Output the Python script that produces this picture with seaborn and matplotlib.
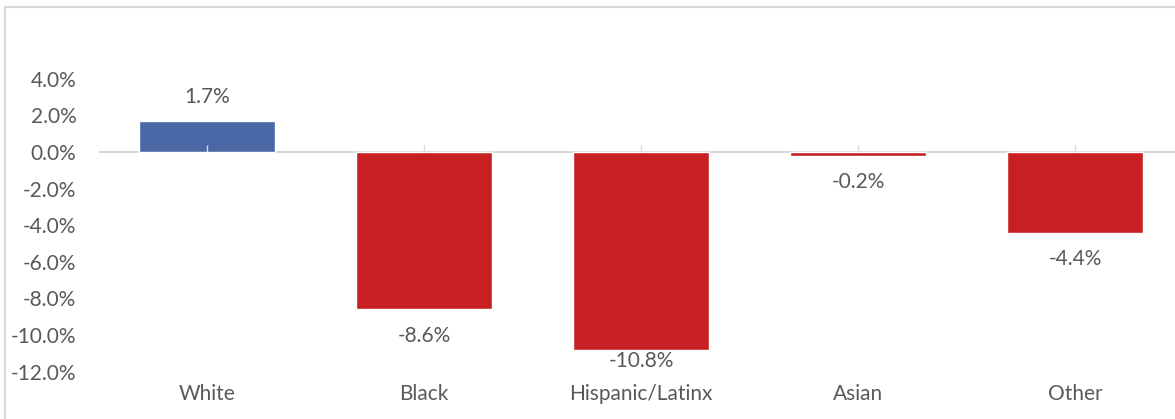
import matplotlib
matplotlib.use("Agg")
import matplotlib.pyplot as plt
import matplotlib.patches as mpatches
from matplotlib.ticker import FuncFormatter
import seaborn as sns

categories = ["White", "Black", "Hispanic/Latinx", "Asian", "Other"]
values = [1.7, -8.6, -10.8, -0.2, -4.4]
y_ticks = [4, 2, 0, -2, -4, -6, -8, -10, -12]

POS_COLOR = "#4A67A6"
NEG_COLOR = "#C82022"
TEXT_COLOR = "#595959"
LINE_COLOR = "#D9D9D9"

sns.set_theme(style="white")
plt.rcParams["font.family"] = ["Lato", "DejaVu Sans"]

fig = plt.figure(figsize=(11.75, 4.19), dpi=100)
ax = fig.add_axes([98.5 / 1175, 1 - 371.6 / 419, 1085 / 1175, 292.8 / 419])

palette = {c: (POS_COLOR if v >= 0 else NEG_COLOR) for c, v in zip(categories, values)}
sns.barplot(x=categories, y=values, hue=categories, palette=palette, width=0.63,
            saturation=1, legend=False, ax=ax, zorder=2)

ymin, ymax = -12, 4
ax.set_ylim(ymin, ymax)
ax.set_xlim(-0.5, len(categories) - 0.5)
ax.set_yticks(y_ticks)
ax.yaxis.set_major_formatter(FuncFormatter(lambda v, p: f"{v:.1f}%"))
ax.tick_params(axis="y", length=0, pad=16, labelsize=15, labelcolor=TEXT_COLOR)
ax.tick_params(axis="x", length=0, pad=9, labelsize=15, labelcolor=TEXT_COLOR)
for s in ax.spines.values():
    s.set_visible(False)

# zero axis line with tick marks at category centres
zero_frac = (0 - ymin) / (ymax - ymin)
sec = ax.secondary_xaxis(zero_frac)
sec.set_zorder(5)
sec.set_xticks(range(len(categories)))
sec.tick_params(direction="out", length=5, width=1, color=LINE_COLOR,
                labelbottom=False, labeltop=False)
for name, s in sec.spines.items():
    if name == "bottom":
        s.set_color(LINE_COLOR)
        s.set_linewidth(1.5)
    else:
        s.set_visible(False)
ax.axhline(0, color=LINE_COLOR, lw=1.5, zorder=1)

# data labels (kept inside the plot area, as the original does)
for i, v in enumerate(values):
    if v >= 0:
        y = v + 1.28
    else:
        y = max(v - 1.45, ymin + 0.6)
    ax.text(i, y, f"{v:.1f}%", ha="center", va="center", fontsize=15, color=TEXT_COLOR)

# chart frame
fig.patches.append(mpatches.Rectangle((5 / 1175, -0.2), 1.2, 1.2 - 7 / 419,
                                      transform=fig.transFigure, fill=False,
                                      edgecolor=LINE_COLOR, lw=1.5))

fig.savefig("out.png", dpi=100)
